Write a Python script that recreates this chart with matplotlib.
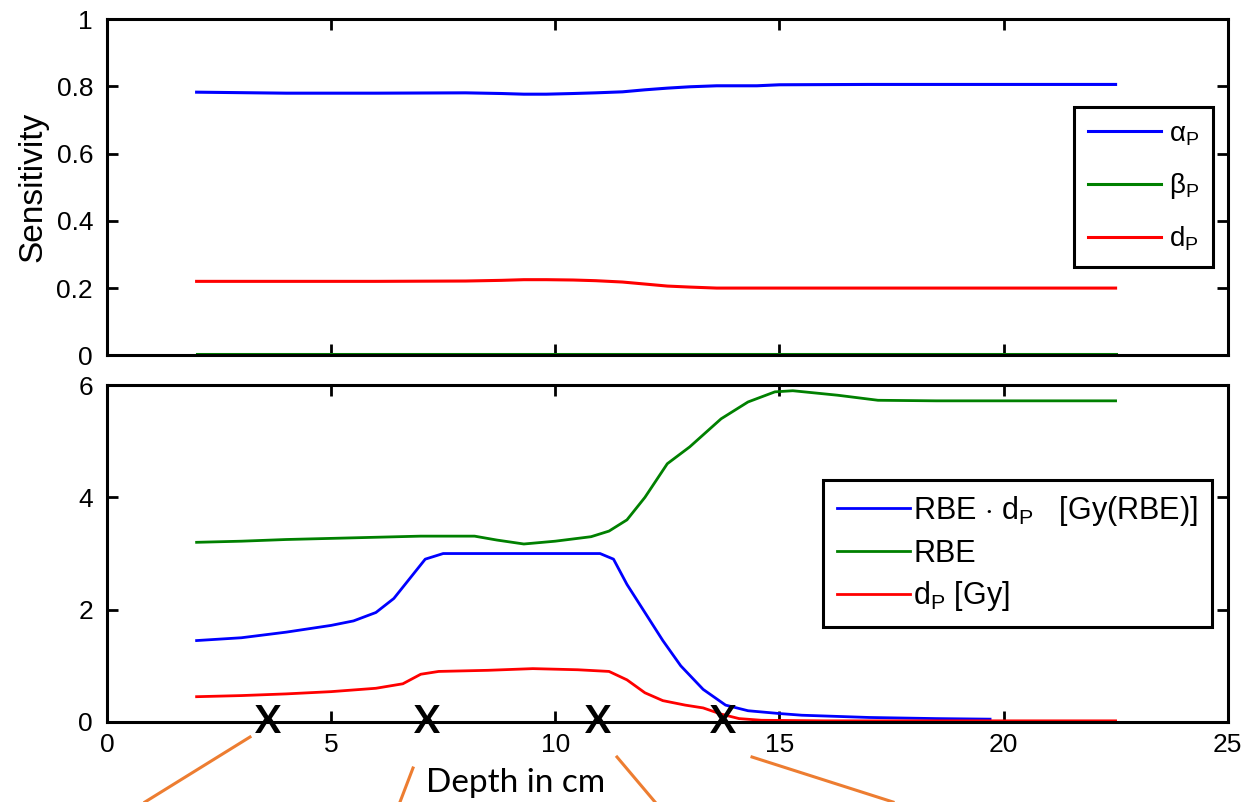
import numpy as np
import matplotlib.pyplot as plt
from matplotlib.lines import Line2D

plt.rcParams['font.family'] = ['Liberation Sans', 'DejaVu Sans']
plt.rcParams['mathtext.fontset'] = 'custom'
plt.rcParams['mathtext.rm'] = 'Liberation Sans'
plt.rcParams['mathtext.it'] = 'Liberation Sans'

# top panel: sensitivities
depth_top = [2.0, 4.0, 6.0, 8.0, 8.8, 9.3, 9.8, 10.4, 10.9, 11.5, 12.0, 12.5, 13.0, 13.6, 14.5, 15.0, 17.0, 20.0, 22.5]
alpha_p = [0.783, 0.78, 0.78, 0.781, 0.779, 0.777, 0.777, 0.779, 0.781, 0.784, 0.79, 0.795, 0.799, 0.802, 0.802, 0.805, 0.806, 0.806, 0.806]
beta_p = [0.003] * len(depth_top)
d_p_sens = [0.22, 0.22, 0.22, 0.221, 0.223, 0.225, 0.225, 0.224, 0.222, 0.218, 0.212, 0.206, 0.203, 0.2, 0.2, 0.2, 0.2, 0.2, 0.2]

# bottom panel: dose and RBE
depth_rbe = [2.0, 3.0, 4.0, 5.0, 6.0, 7.0, 8.2, 8.7, 9.3, 10.0, 10.8, 11.2, 11.6, 12.0, 12.5, 13.0, 13.7, 14.3, 14.9,
             15.3, 16.3, 17.2, 18.5, 20.0, 22.5]
rbe = [3.2, 3.22, 3.25, 3.27, 3.29, 3.31, 3.31, 3.24, 3.17, 3.22, 3.3, 3.4, 3.6, 4.0, 4.6, 4.9, 5.4, 5.7, 5.88,
       5.9, 5.82, 5.73, 5.72, 5.72, 5.72]

depth_bio = [2.0, 3.0, 4.0, 5.0, 5.5, 6.0, 6.4, 6.8, 7.1, 7.5, 8.5, 9.5, 10.5, 11.0, 11.3, 11.6, 12.0, 12.4, 12.8,
             13.3, 13.8, 14.3, 15.0, 15.5, 17.0, 18.5, 19.7]
rbe_dose = [1.45, 1.5, 1.6, 1.72, 1.8, 1.95, 2.2, 2.6, 2.9, 3.0, 3.0, 3.0, 3.0, 3.0, 2.9, 2.45, 1.95, 1.45, 1.0,
            0.58, 0.3, 0.2, 0.15, 0.12, 0.08, 0.06, 0.05]

depth_dose = [2.0, 3.0, 4.0, 5.0, 6.0, 6.6, 7.0, 7.4, 8.5, 9.5, 10.5, 11.2, 11.6, 12.0, 12.4, 12.9, 13.3, 13.7, 14.1,
              14.6, 16.0, 19.0, 22.5]
dose = [0.45, 0.47, 0.5, 0.54, 0.6, 0.68, 0.85, 0.9, 0.92, 0.95, 0.93, 0.9, 0.75, 0.52, 0.38, 0.3, 0.25, 0.14, 0.06,
        0.03, 0.02, 0.02, 0.02]

marker_depths = [3.6, 7.15, 10.95, 13.75]

fig = plt.figure(figsize=(12.48, 8.02), dpi=100)
ax1 = fig.add_axes([0.0857, 0.557, 0.898, 0.419])
ax2 = fig.add_axes([0.0857, 0.0998, 0.898, 0.420])

ax1.plot(depth_top, alpha_p, color='blue', lw=2.2, label=r'$\mathrm{\alpha_P}$')
ax1.plot(depth_top, beta_p, color='green', lw=2.2, label=r'$\mathrm{\beta_P}$')
ax1.plot(depth_top, d_p_sens, color='red', lw=2.2, label=r'$\mathrm{d_P}$')
ax1.set_xlim(0, 25)
ax1.set_ylim(0, 1)
ax1.set_yticks([0, 0.2, 0.4, 0.6, 0.8, 1])
ax1.set_yticklabels(['0', '0.2', '0.4', '0.6', '0.8', '1'])
ax1.set_xticks([0, 5, 10, 15, 20, 25])
ax1.tick_params(labelbottom=False)
ax1.set_ylabel('Sensitivity', fontsize=24, labelpad=6)
ax1.legend(loc='upper right', bbox_to_anchor=(0.987, 0.738), fontsize=20, handlelength=2.6,
           handletextpad=0.3, labelspacing=0.85, fancybox=False, edgecolor='black', framealpha=1,
           borderpad=0.5, borderaxespad=0)

ax2.plot(depth_bio, rbe_dose, color='blue', lw=2, label=r'RBE $\cdot$ d$_\mathrm{P}$   [Gy(RBE)]')
ax2.plot(depth_rbe, rbe, color='green', lw=2, label='RBE')
ax2.plot(depth_dose, dose, color='red', lw=2, label=r'd$_\mathrm{P}$ [Gy]')
ax2.set_xlim(0, 25)
ax2.set_ylim(0, 6)
ax2.set_yticks([0, 2, 4, 6])
ax2.set_xticks([0, 5, 10, 15, 20, 25])
ax2.legend(loc='upper right', bbox_to_anchor=(0.986, 0.718), fontsize=22, handlelength=2.4,
           handletextpad=0.1, labelspacing=0.35, fancybox=False, edgecolor='black', framealpha=1,
           borderpad=0.45, borderaxespad=0)

for ax in (ax1, ax2):
    ax.tick_params(direction='in', length=8, width=2, top=True, right=True, labelsize=19)
    ax.tick_params(axis='y', pad=10)
    ax.tick_params(axis='x', pad=8)
    for s in ax.spines.values():
        s.set_linewidth(2.2)
    ax.get_legend().get_frame().set_linewidth(2.2)

for d in marker_depths:
    ax2.text(d, 0, 'X', fontsize=28, fontweight='bold', family='Lato', ha='center', va='center')

fig.text(0.413, 0.024, 'Depth in cm', fontsize=24, family='Lato', ha='center', va='center')

# orange pointer lines (figure pixels)
pointers = [((250, 737), (145, 802)), ((413, 768), (400, 802)), ((617, 757), (655, 802)), ((752, 757), (893, 802))]
for (x0, y0), (x1, y1) in pointers:
    fig.add_artist(Line2D([x0 / 1248, x1 / 1248], [1 - y0 / 802, 1 - y1 / 802],
                          color='#ED7D31', lw=2.2, transform=fig.transFigure))

fig.savefig('out.png', dpi=100)
